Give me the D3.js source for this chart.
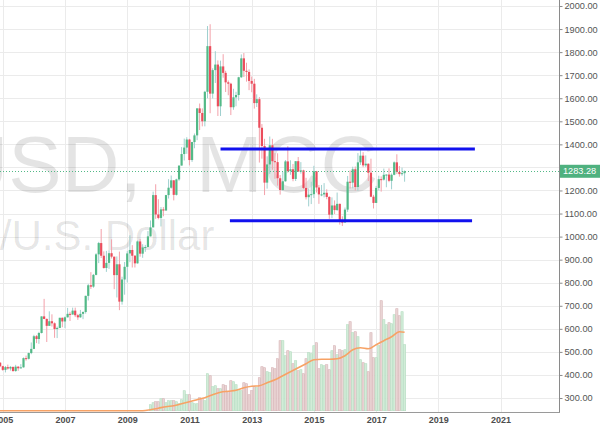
<!DOCTYPE html>
<html><head><meta charset="utf-8">
<script src="https://cdn.jsdelivr.net/npm/d3@7"></script>
<style>html,body{margin:0;padding:0;background:#fff;overflow:hidden}</style>
</head><body><svg id="c" width="600" height="428"></svg>
<script>
// ---------- DATA ----------
// Monthly candles, first month = Oct 2004
const candleStartYear = 2004, candleStartMonth = 9;
const opens = [
 415,429,453,
 438,422,434,428,435,417,436,429,433,473,470,495,
 513,568,556,582,654,643,613,633,624,599,604,648,
 632,650,665,662,679,659,650,665,673,743,789,783,
 834,923,972,917,864,886,928,913,833,880,718,814,
 869,927,942,917,884,979,926,953,955,1001,1040,1180,
 1096,1081,1118,1113,1180,1212,1244,1181,1248,1308,1358,1386,
 1421,1332,1410,1439,1556,1536,1500,1628,1826,1620,1722,1746,
 1565,1738,1710,1669,1663,1561,1604,1614,1691,1773,1719,1714,
 1675,1663,1579,1596,1472,1393,1234,1313,1396,1327,1323,1253,
 1202,1240,1326,1284,1292,1250,1327,1282,1287,1211,1171,1182,
 1184,1283,1213,1183,1183,1190,1172,1095,1135,1115,1142,1065,
 1061,1117,1238,1234,1292,1215,1322,1351,1309,1316,1277,1173,
 1146,1211,1249,1247,1268,1269,1242,1268,1322,1280,1271,1275];
const highs = [
 432,456,456,
 440,439,445,438,436,444,438,447,476,484,497,541,
 574,573,587,654,730,645,676,663,628,610,648,649,
 654,691,674,692,692,665,682,676,744,795,846,838,
 928,977,1033,936,938,941,988,913,914,935,826,890,
 937,1006,963,920,983,990,967,964,1024,1070,1195,1227,
 1162,1128,1128,1181,1249,1265,1245,1251,1308,1388,1425,1431,
 1424,1411,1447,1557,1577,1556,1632,1913,1921,1730,1804,1764,
 1763,1791,1719,1677,1667,1641,1628,1693,1790,1796,1754,1725,
 1694,1684,1617,1605,1488,1424,1348,1434,1424,1362,1361,1267,
 1280,1332,1392,1331,1315,1326,1345,1323,1290,1255,1208,1238,
 1307,1285,1224,1224,1232,1205,1175,1170,1157,1191,1143,1088,
 1126,1263,1287,1303,1304,1362,1375,1366,1352,1317,1338,1181,
 1220,1264,1261,1295,1270,1296,1274,1326,1357,1306,1299,1287];
const lows = [
 413,425,434,
 418,411,423,419,414,414,418,428,432,462,467,490,
 512,538,535,580,642,543,613,610,561,560,603,607,
 603,649,634,662,651,639,648,642,666,723,773,778,
 832,885,907,861,847,860,905,772,736,681,705,748,
 801,889,866,866,883,913,908,934,954,1001,1040,1077,
 1075,1044,1088,1113,1165,1208,1157,1178,1242,1308,1330,1359,
 1309,1324,1383,1418,1462,1478,1478,1600,1535,1599,1666,1523,
 1523,1689,1627,1613,1527,1550,1565,1590,1688,1692,1672,1635,
 1626,1555,1562,1321,1338,1180,1208,1272,1290,1251,1221,1182,
 1200,1238,1277,1268,1240,1241,1281,1273,1206,1161,1131,1141,
 1167,1191,1142,1175,1170,1162,1077,1080,1098,1112,1052,1046,
 1061,1107,1208,1209,1200,1199,1311,1301,1302,1241,1171,1122,
 1146,1200,1195,1243,1214,1236,1205,1266,1271,1260,1264,1238];
const closes = [
 429,453,438,
 422,434,428,435,417,436,429,433,473,470,495,513,
 568,556,582,654,643,613,633,624,599,604,648,632,
 650,665,662,679,659,650,665,673,743,789,783,834,
 923,972,917,864,886,928,913,833,880,718,814,869,
 927,942,917,884,979,926,953,955,1001,1040,1180,1096,
 1081,1118,1113,1180,1212,1244,1181,1248,1308,1358,1386,1421,
 1332,1410,1439,1556,1536,1500,1628,1826,1620,1722,1746,1565,
 1738,1710,1669,1663,1561,1604,1614,1691,1773,1719,1714,1675,
 1663,1579,1596,1472,1393,1234,1313,1396,1327,1323,1253,1202,
 1240,1326,1284,1292,1250,1327,1282,1287,1211,1171,1182,1184,
 1283,1213,1183,1183,1190,1172,1095,1135,1115,1142,1065,1061,
 1117,1238,1234,1292,1215,1322,1351,1309,1316,1277,1173,1146,
 1211,1249,1247,1268,1269,1242,1268,1322,1280,1271,1275,1283.28];

// Monthly volume (thousands), first month = Oct 2009
const volumeStartYear = 2009, volumeStartMonth = 9;
const volumes = [
 6,8,9,
 9,12,12,8,10,10,10,9,7,11,20,16,
 16,8,7,7,13,12,10,37,35,24,25,22,
 22,26,25,19,30,29,26,21,20,28,27,16,
 20,24,23,33,44,43,39,38,43,42,52,70,
 70,55,60,59,47,50,40,41,37,52,58,57,
 65,68,42,46,45,46,41,60,65,56,61,60,
 61,86,89,78,79,74,51,48,47,39,78,53,
 53,65,110,91,86,88,87,96,102,95,99,66];

// Volume moving average
const maDates = ["2004-10-01","2009-07-01","2009-10-01","2010-01-01","2010-04-01","2010-07-01","2010-10-01",
 "2011-01-01","2011-04-01","2011-07-01","2011-10-01","2012-01-01","2012-04-01","2012-07-01","2012-10-01",
 "2013-01-01","2013-04-01","2013-07-01","2013-10-01","2014-01-01","2014-04-01","2014-07-01","2014-10-01",
 "2015-01-01","2015-04-01","2015-07-01","2015-10-01","2016-01-01","2016-04-01","2016-07-01","2016-10-01",
 "2017-01-01","2017-04-01","2017-07-01","2017-10-01","2017-12-01"];
const maValues = [0,0,1,2.5,4,5,7,9,11,13,16,18.5,19.5,20.5,23,24.5,25,28,31,35,39,43,47,51,51.5,51.5,52,55,61,63,62,66,70,74,79,78.5];

// Horizontal levels drawn on the chart
const levelValues = [1380, 1069];
const levelStarts = ["2012-01-01", "2012-04-20"];
const levelEnds = ["2020-03-05", "2020-02-01"];

const lastPrice = 1283.28;
const priceTicks = d3.range(300, 2001, 100);
const yearTicks = [2005,2007,2009,2011,2013,2015,2017,2019,2021];
const watermarkSymbol = "XAUUSD,";
const watermarkInterval = "MCC";
const watermarkDesc = "Gold/U.S. Dollar";

// ---------- CHART ----------
const svg = d3.select("#c");
const plotR = 559, plotB = 412;
const x = d3.scaleTime().domain([new Date(2005,0,1), new Date(2021,0,1)]).range([2.8, 500.6]);
const y = d3.scaleLinear().domain([239.4, 2026]).range([plotB, 0]);
const yv = d3.scaleLinear().domain([0, 100]).range([410.7, 310.7]);

const GREEN = "#53b987", RED = "#eb4d5c";
const candles = opens.map((o,i)=>({date:new Date(candleStartYear, candleStartMonth+i, 1), o, h:highs[i], l:lows[i], c:closes[i]}));
const vols = volumes.map((v,i)=>{
  const d = new Date(volumeStartYear, volumeStartMonth+i, 1);
  const c = candles.find(k=>k.date.getTime()===d.getTime());
  return {date:d, v, up: c ? c.c>=c.o : true};
});

svg.append("rect").attr("width",600).attr("height",428).attr("fill","#fff");
svg.append("defs").append("clipPath").attr("id","clip").append("rect").attr("x",0).attr("y",0).attr("width",plotR).attr("height",plotB);

const plot = svg.append("g").attr("clip-path","url(#clip)");

// grid
plot.append("g").selectAll("line").data(priceTicks).join("line")
  .attr("x1",0).attr("x2",plotR).attr("y1",d=>Math.round(y(d))+0.5).attr("y2",d=>Math.round(y(d))+0.5)
  .attr("stroke","#ebebeb").attr("stroke-width",1);
plot.append("g").selectAll("line").data(yearTicks).join("line")
  .attr("y1",0).attr("y2",plotB).attr("x1",d=>Math.round(x(new Date(d,0,1)))+0.5).attr("x2",d=>Math.round(x(new Date(d,0,1)))+0.5)
  .attr("stroke","#ebebeb").attr("stroke-width",1);

// watermark
const wm = plot.append("g").attr("fill","rgba(0,0,0,0.105)").attr("font-family","Liberation Sans, Arial, sans-serif");
const t1 = wm.append("text").attr("y",192).attr("font-size",80);
t1.append("tspan").attr("x",-214).text(watermarkSymbol);
t1.append("tspan").attr("x",196).text(watermarkInterval);
wm.append("text").attr("x",-89).attr("y",250).attr("font-size",42).text(watermarkDesc);

// volume
plot.append("g").selectAll("rect").data(vols).join("rect")
  .attr("x",d=>x(d.date)-1.1).attr("width",2.2)
  .attr("y",d=>yv(d.v)).attr("height",d=>yv(0)-yv(d.v))
  .attr("fill",d=>d.up?"#d2ecd8":"#ead5d5")
  .attr("stroke",d=>d.up?"#b3dcc0":"#d6b4b6").attr("stroke-width",0.6);

// volume MA
plot.append("path").datum(maDates.map((d,i)=>({date:new Date(d+"T00:00:00"), v:maValues[i]})))
  .attr("fill","none").attr("stroke","#f7a265").attr("stroke-width",1.6)
  .attr("d", d3.line().x(d=>x(d.date)).y(d=>yv(d.v)).curve(d3.curveMonotoneX));

// candles
const cg = plot.append("g");
cg.selectAll("line").data(candles).join("line")
  .attr("x1",d=>x(d.date)).attr("x2",d=>x(d.date))
  .attr("y1",d=>y(d.h)).attr("y2",d=>y(d.l))
  .attr("stroke",d=>d.c>=d.o?"#9fd0cf":"#f3a1aa").attr("stroke-width",1);
cg.selectAll("rect").data(candles).join("rect")
  .attr("x",d=>x(d.date)-1.1).attr("width",2.2)
  .attr("y",d=>y(Math.max(d.o,d.c)))
  .attr("height",d=>Math.max(1, Math.abs(y(d.o)-y(d.c))))
  .attr("fill",d=>d.c>=d.o?GREEN:RED);

// level lines
plot.append("g").selectAll("line").data(levelValues).join("line")
  .attr("x1",(d,i)=>x(new Date(levelStarts[i]+"T00:00:00")))
  .attr("x2",(d,i)=>x(new Date(levelEnds[i]+"T00:00:00")))
  .attr("y1",d=>y(d)).attr("y2",d=>y(d))
  .attr("stroke","#1111ee").attr("stroke-width",3);

// last price line
plot.append("line").attr("x1",0).attr("x2",plotR)
  .attr("y1",Math.round(y(lastPrice))+0.5).attr("y2",Math.round(y(lastPrice))+0.5)
  .attr("stroke",GREEN).attr("stroke-width",1).attr("stroke-dasharray","1,2");

// right axis
const ya = svg.append("g").attr("transform",`translate(${plotR+0.5},0)`)
  .call(d3.axisRight(y).tickValues(priceTicks).tickSize(3).tickPadding(2).tickFormat(d3.format(".2f")));
ya.select(".domain").remove();
ya.selectAll(".tick line").attr("stroke","#8a8a8a");
ya.selectAll(".tick text").attr("fill","#555").attr("font-size",9.2).attr("font-family","Liberation Sans, Arial, sans-serif");
svg.append("line").attr("x1",plotR+0.5).attr("x2",plotR+0.5).attr("y1",0).attr("y2",plotB+1).attr("stroke","#8a8a8a");

// bottom axis
const xa = svg.append("g").attr("transform",`translate(0,${plotB})`)
  .call(d3.axisBottom(x).tickValues(yearTicks.map(d=>new Date(d,0,1))).tickSize(0).tickPadding(5).tickFormat(d3.timeFormat("%Y")));
xa.select(".domain").remove();
xa.selectAll(".tick text").attr("fill","#4d4d4d").attr("font-size",9).attr("font-weight","bold").attr("font-family","Liberation Sans, Arial, sans-serif");
svg.append("line").attr("x1",0).attr("x2",plotR+1).attr("y1",plotB+0.5).attr("y2",plotB+0.5).attr("stroke","#9a9a9a");

// price label
const py = y(lastPrice);
svg.append("rect").attr("x",plotR+1).attr("y",py-6.5).attr("width",41).attr("height",13).attr("fill","#4fb17f");
svg.append("text").attr("x",plotR+4).attr("y",py+3.2).attr("fill","#fff").attr("font-size",9.2)
  .attr("font-family","Liberation Sans, Arial, sans-serif").text(d3.format(".2f")(lastPrice));
</script></body></html>
